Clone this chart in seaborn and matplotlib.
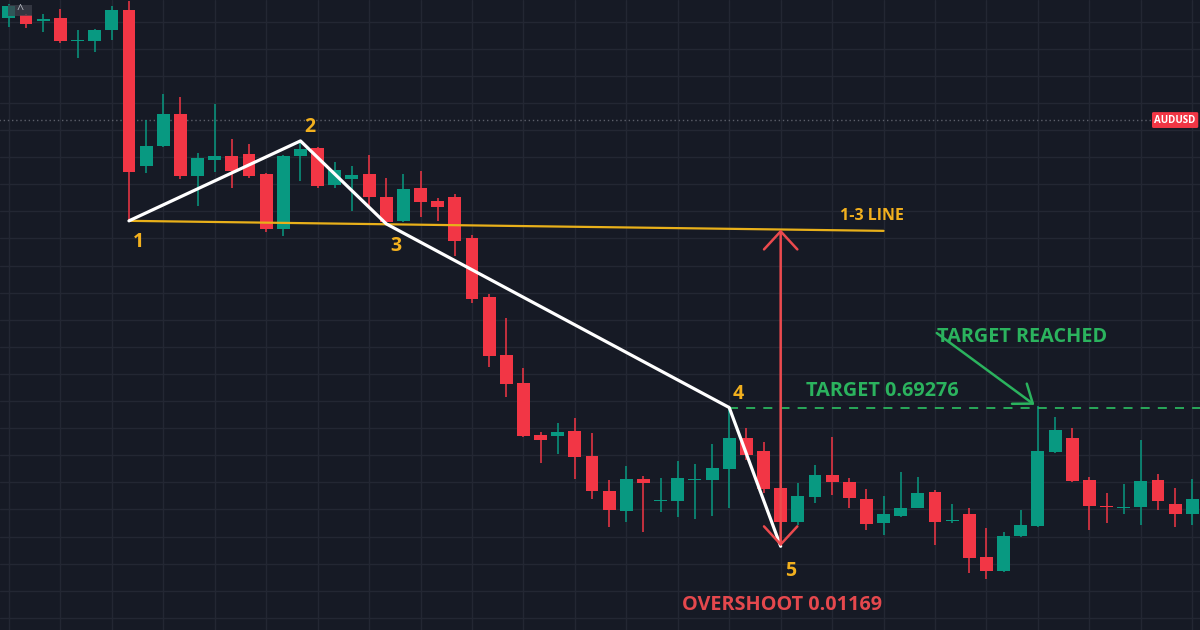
import numpy as np
import seaborn as sns
import matplotlib.pyplot as plt
from matplotlib.patches import Rectangle
from matplotlib.ticker import MultipleLocator

# AUDUSD candles (one entry per bar, left to right)
opens = [0.70714, 0.70725, 0.70703, 0.70714, 0.70631, 0.70629, 0.70669, 0.70743, 0.70167, 0.70241,
         0.70359, 0.70131, 0.70190, 0.70204, 0.70212, 0.70138, 0.69935, 0.70204, 0.70234, 0.70097,
         0.70120, 0.70138, 0.70053, 0.69965, 0.70086, 0.70038, 0.70053, 0.69902, 0.69684, 0.69470,
         0.69367, 0.69175, 0.69171, 0.69190, 0.69097, 0.68968, 0.68894, 0.69013, 0.68933, 0.68931,
         0.69011, 0.69009, 0.69049, 0.69164, 0.69116, 0.68979, 0.68854, 0.68946, 0.69027, 0.69001,
         0.68937, 0.68850, 0.68876, 0.68905, 0.68965, 0.68859, 0.68883, 0.68725, 0.68673, 0.68802,
         0.68839, 0.69112, 0.69164, 0.69009, 0.68915, 0.68907, 0.68909, 0.69009, 0.68920, 0.68883]
highs = [0.70765, 0.70728, 0.70728, 0.70747, 0.70669, 0.70673, 0.70758, 0.70776, 0.70337, 0.70433,
         0.70422, 0.70215, 0.70396, 0.70267, 0.70249, 0.70142, 0.70208, 0.70260, 0.70238, 0.70182,
         0.70167, 0.70208, 0.70123, 0.70138, 0.70149, 0.70049, 0.70064, 0.69913, 0.69695, 0.69607,
         0.69422, 0.69186, 0.69219, 0.69238, 0.69182, 0.69009, 0.69060, 0.69024, 0.69016, 0.69079,
         0.69068, 0.69142, 0.69276, 0.69201, 0.69149, 0.68990, 0.68998, 0.69064, 0.69167, 0.69016,
         0.68976, 0.68950, 0.69038, 0.69020, 0.68972, 0.68920, 0.68905, 0.68832, 0.68817, 0.68898,
         0.69280, 0.69241, 0.69201, 0.69020, 0.68961, 0.68994, 0.69156, 0.69031, 0.68979, 0.69013]
lows = [0.70680, 0.70677, 0.70662, 0.70621, 0.70566, 0.70588, 0.70632, 0.69965, 0.70142, 0.70238,
        0.70120, 0.70020, 0.70145, 0.70086, 0.70123, 0.69924, 0.69909, 0.70112, 0.70086, 0.70086,
        0.70001, 0.70016, 0.69957, 0.69961, 0.69979, 0.69965, 0.69835, 0.69662, 0.69426, 0.69315,
        0.69167, 0.69072, 0.69105, 0.69013, 0.68937, 0.68835, 0.68854, 0.68817, 0.68891, 0.68872,
        0.68865, 0.68876, 0.68905, 0.69083, 0.68961, 0.68850, 0.68843, 0.68924, 0.68953, 0.68905,
        0.68824, 0.68806, 0.68872, 0.68905, 0.68769, 0.68850, 0.68666, 0.68644, 0.68669, 0.68799,
        0.68835, 0.69108, 0.69001, 0.68824, 0.68850, 0.68883, 0.68843, 0.68898, 0.68835, 0.68843]
closes = [0.70758, 0.70691, 0.70710, 0.70629, 0.70634, 0.70669, 0.70743, 0.70145, 0.70241, 0.70359,
          0.70131, 0.70197, 0.70204, 0.70149, 0.70131, 0.69935, 0.70204, 0.70230, 0.70094, 0.70153,
          0.70134, 0.70053, 0.69961, 0.70083, 0.70035, 0.70016, 0.69891, 0.69677, 0.69466, 0.69363,
          0.69171, 0.69156, 0.69186, 0.69094, 0.68968, 0.68898, 0.69013, 0.68998, 0.68937, 0.69016,
          0.69014, 0.69053, 0.69164, 0.69101, 0.68976, 0.68854, 0.68950, 0.69027, 0.69001, 0.68942,
          0.68846, 0.68883, 0.68905, 0.68961, 0.68854, 0.68863, 0.68721, 0.68673, 0.68802, 0.68843,
          0.69116, 0.69193, 0.69005, 0.68913, 0.68911, 0.68911, 0.69005, 0.68931, 0.68883, 0.68939]

# 1-2-3-4-5 pattern points (bar index, price)
wave_idx = [7, 17, 22, 42, 45]
wave_price = [0.69965, 0.70260, 0.69954, 0.69276, 0.68764]
wave_labels = ["1", "2", "3", "4", "5"]
line13_idx = [7, 51]
line13_price = [0.69965, 0.69928]
target = 0.69276
overshoot = 0.01169
last_price = 0.70337

BG = "#161a25"
RED = "#f23645"
GREEN = "#089981"
GOLD = "#f2b01e"
TXT_GREEN = "#2bb35e"
TXT_RED = "#e5484d"

sns.set_theme(style="dark", rc={"axes.facecolor": BG, "figure.facecolor": BG})
plt.rcParams["font.family"] = ["Open Sans", "DejaVu Sans"]

fig = plt.figure(figsize=(12, 6.3), dpi=100)
ax = fig.add_axes([0, 0, 1, 1])

o = np.array(opens)
h = np.array(highs)
l = np.array(lows)
c = np.array(closes)
idx = np.arange(len(o))
up = c >= o
cols = np.where(up, GREEN, RED)

# wicks then bodies
ax.vlines(idx, l, h, colors=cols, lw=1.1, zorder=2)
body = np.maximum(np.abs(c - o), 0.00005)
ax.bar(idx, body, bottom=np.minimum(o, c) - np.where(np.abs(c - o) < 0.00005, 0.000025, 0),
       width=0.75, color=cols, lw=0, zorder=3)

# last price dotted line + tag
ax.hlines(last_price, -1, 66.6, colors="#5d606b", lw=1, linestyles=(0, (1, 2)), zorder=1)
ax.text(68.0, last_price, "AUDUSD", color="white", fontsize=7, fontweight="bold",
        ha="center", va="center", zorder=6,
        bbox=dict(boxstyle="round,pad=0.25,rounding_size=0.15", fc=RED, ec="none"))

# little collapse widget top-left
fig.patches.append(Rectangle((8 / 1200, 1 - 16 / 630), 24 / 1200, 11 / 630, transform=fig.transFigure,
                             fc="#3d404b", ec="none", alpha=0.75, zorder=6))
fig.text(20 / 1200, 1 - 9 / 630, "^", color="#b2b5be", fontsize=9, ha="center", va="center", zorder=7)

# 1-3 line
ax.plot(line13_idx, line13_price, color="#e8b01a", lw=1.6, zorder=4)
ax.text(50.3, 0.69983, "1-3 LINE", color=GOLD, fontsize=11.5, fontweight="bold",
        ha="center", va="center", zorder=6)

# zigzag
sns.lineplot(x=wave_idx, y=wave_price, color="white", lw=2.3, ax=ax, zorder=5)
offsets = [(6.5, -15), (7, 10), (7, -16), (6.5, 10), (7, -18)]
for xi, yi, lab, off in zip(wave_idx, wave_price, wave_labels, offsets):
    ax.annotate(lab, (xi, yi), xytext=off, textcoords="offset points", color=GOLD,
                fontsize=14, fontweight="bold", ha="center", va="center", zorder=6)

# overshoot measure
top13 = line13_price[0] + (45 - line13_idx[0]) / (line13_idx[1] - line13_idx[0]) * (line13_price[1] - line13_price[0])
ax.annotate("", xy=(45, wave_price[4]), xytext=(45, top13),
            arrowprops=dict(arrowstyle="<->,head_length=0.65,head_width=0.6", color="#ec4a4e",
                            lw=1.8, mutation_scale=20, shrinkA=0, shrinkB=0), zorder=5)
ax.text(45.1, 0.68548, f"OVERSHOOT {overshoot:.5f}", color=TXT_RED, fontsize=14.3,
        fontweight="bold", ha="center", va="center", zorder=6)

# target
ax.hlines(target, 42, 70, colors=TXT_GREEN, lw=1.3, linestyles=(0, (5, 4.5)), zorder=4)
ax.text(50.9, 0.69337, f"TARGET {target:.5f}", color=TXT_GREEN, fontsize=14.3,
        fontweight="bold", ha="center", va="center", zorder=6)
ax.annotate("", xy=(59.8, 0.69286), xytext=(54.1, 0.69551),
            arrowprops=dict(arrowstyle="->,head_length=0.6,head_width=0.45", color=TXT_GREEN,
                            lw=1.8, mutation_scale=20, shrinkA=0, shrinkB=0), zorder=5)
ax.text(59.07, 0.69537, "TARGET REACHED", color=TXT_GREEN, fontsize=14.3,
        fontweight="bold", ha="center", va="center", zorder=6)

ax.set_xlim(-0.52, 69.45)
ax.set_ylim(0.68455, 0.70780)
ax.xaxis.set_major_locator(MultipleLocator(3))
ax.yaxis.set_major_locator(MultipleLocator(0.001))
ax.grid(True, color="#232733", lw=1)
ax.tick_params(length=0, labelbottom=False, labelleft=False)
for s in ax.spines.values():
    s.set_visible(False)
ax.set_xlabel("")
ax.set_ylabel("")

fig.savefig("out.png", dpi=100, facecolor=BG)
